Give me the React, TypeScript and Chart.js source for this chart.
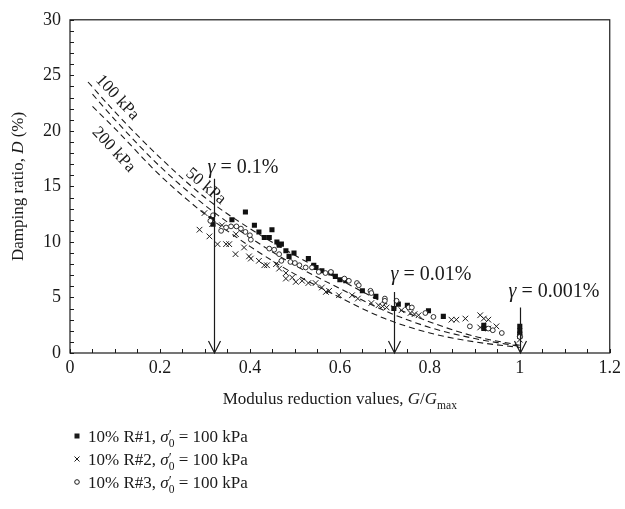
import React, { useEffect, useRef } from 'react';
import { Chart, registerables } from 'chart.js';

Chart.register(...registerables);

const FONT = "'Liberation Serif', 'Times New Roman', serif";
const INK = '#1a1a1a';

// Axis tick labels
const xTickLabels = ['0', '0.2', '0.4', '0.6', '0.8', '1', '1.2'];
const yTickLabels = ['0', '5', '10', '15', '20', '25', '30'];

// 10% R#1 (filled squares)
const r1X = [0.315, 0.318, 0.36, 0.39, 0.41, 0.42, 0.432, 0.443, 0.449, 0.46, 0.465, 0.47, 0.48, 0.487, 0.498, 0.53, 0.542, 0.547, 0.56, 0.58, 0.59, 0.6, 0.613, 0.65, 0.68, 0.72, 0.73, 0.75, 0.797, 0.83, 0.92, 0.92, 1.0, 1.0, 1.0, 1.0];
const r1D = [12.1, 11.6, 12.0, 12.7, 11.5, 10.9, 10.4, 10.4, 11.1, 10.0, 9.7, 9.8, 9.2, 8.7, 9.0, 8.5, 7.9, 7.7, 7.4, 7.2, 6.9, 6.6, 6.5, 5.6, 5.1, 4.0, 4.4, 4.3, 3.8, 3.3, 2.5, 2.2, 2.4, 2.0, 1.7, 1.5];

// 10% R#2 (crosses)
const r2X = [0.288, 0.299, 0.31, 0.314, 0.316, 0.328, 0.338, 0.347, 0.354, 0.368, 0.369, 0.387, 0.398, 0.402, 0.42, 0.432, 0.438, 0.458, 0.465, 0.48, 0.48, 0.494, 0.502, 0.516, 0.53, 0.546, 0.56, 0.569, 0.576, 0.598, 0.627, 0.64, 0.67, 0.686, 0.695, 0.704, 0.737, 0.757, 0.766, 0.775, 0.848, 0.859, 0.879, 0.912, 0.92, 0.93, 0.912, 0.93, 0.948, 1.0];
const r2D = [11.1, 12.6, 10.5, 12.1, 11.6, 9.8, 11.5, 9.8, 9.8, 8.9, 10.7, 9.5, 8.7, 8.5, 8.3, 7.9, 7.9, 8.0, 7.6, 7.2, 6.7, 6.8, 6.4, 6.5, 6.3, 6.3, 5.9, 5.5, 5.6, 5.2, 5.2, 4.9, 4.5, 4.3, 4.2, 4.1, 3.85, 3.6, 3.5, 3.4, 3.0, 3.0, 3.1, 3.4, 3.1, 3.0, 2.3, 2.2, 2.4, 1.2];

// 10% R#3 (open circles)
const r3X = [0.312, 0.318, 0.336, 0.347, 0.358, 0.37, 0.38, 0.39, 0.4, 0.402, 0.443, 0.454, 0.465, 0.47, 0.49, 0.5, 0.51, 0.524, 0.538, 0.553, 0.568, 0.58, 0.61, 0.62, 0.638, 0.642, 0.668, 0.67, 0.7, 0.7, 0.726, 0.753, 0.76, 0.79, 0.808, 0.889, 0.93, 0.94, 0.96, 1.0];
const r3D = [11.9, 12.4, 11.0, 11.3, 11.4, 11.4, 11.2, 10.9, 10.6, 10.2, 9.4, 9.3, 8.9, 8.3, 8.2, 8.1, 7.9, 7.7, 7.7, 7.3, 7.2, 7.3, 6.7, 6.5, 6.3, 6.1, 5.6, 5.4, 4.9, 4.7, 4.7, 4.1, 4.1, 3.6, 3.25, 2.4, 2.2, 2.05, 1.8, 1.45];

// Reference damping curves (dashed)
const curveTopX = [0.04, 0.1, 0.2, 0.3, 0.4, 0.5, 0.6, 0.7, 0.8, 0.9, 1.0];
const curveTopD = [24.4, 21.7, 17.6, 14.0, 11.2, 8.8, 6.6, 4.5, 2.8, 1.5, 0.7];
const curveMidX = [0.05, 0.1, 0.2, 0.3, 0.4, 0.5, 0.6, 0.7, 0.8, 0.9, 1.0];
const curveMidD = [23.3, 21.0, 16.8, 13.3, 10.4, 7.9, 5.8, 3.8, 2.3, 1.3, 0.6];
const curveLowX = [0.05, 0.1, 0.2, 0.3, 0.4, 0.5, 0.6, 0.7, 0.8, 0.9, 1.0];
const curveLowD = [22.2, 20.2, 16.0, 12.5, 9.6, 7.1, 5.0, 3.1, 1.8, 1.0, 0.5];

// Strain-level markers
const strainX = [0.32, 0.72, 1.0];
const strainTopD = [15.7, 5.5, 4.1];
const strainLabels = ['0.1%', '0.01%', '0.001%'];

const legendLabels = ['10% R#1, ', '10% R#2, ', '10% R#3, '];

const toPts = (xs: number[], ys: number[]) => xs.map((v, i) => ({ x: v, y: ys[i] }));

type Part = { t: string; it?: boolean; sub?: boolean; sup?: boolean; noAdv?: boolean };

function partFont(p: Part, size: number) {
  const s = p.sub ? size * 0.68 : p.sup ? size * 0.8 : size;
  return `${p.it ? 'italic ' : ''}${s}px ${FONT}`;
}

function richWidth(ctx: CanvasRenderingContext2D, parts: Part[], size: number) {
  let w = 0;
  for (const p of parts) {
    ctx.font = partFont(p, size);
    if (!p.noAdv) w += ctx.measureText(p.t).width;
  }
  return w;
}

function drawRich(ctx: CanvasRenderingContext2D, x: number, y: number, parts: Part[], size: number, align: 'left' | 'center' = 'left') {
  let cx = x;
  if (align === 'center') cx -= richWidth(ctx, parts, size) / 2;
  ctx.textAlign = 'left';
  ctx.textBaseline = 'alphabetic';
  for (const p of parts) {
    ctx.font = partFont(p, size);
    const dy = p.sub ? size * 0.28 : p.sup ? -size * 0.12 : 0;
    ctx.fillText(p.t, cx, y + dy);
    if (!p.noAdv) cx += ctx.measureText(p.t).width;
  }
}

const annotPlugin = {
  id: 'annot',
  afterDraw(chart: any) {
    const { ctx, chartArea: a, scales } = chart;
    const xs = scales.x;
    const ys = scales.y;
    ctx.save();
    ctx.strokeStyle = INK;
    ctx.fillStyle = INK;

    // frame
    ctx.lineWidth = 1.2;
    ctx.strokeRect(a.left, a.top, a.right - a.left, a.bottom - a.top);

    // inward minor ticks
    ctx.lineWidth = 1;
    ctx.beginPath();
    for (let v = 0; v <= 30; v++) {
      const py = Math.round(ys.getPixelForValue(v)) + 0.5;
      ctx.moveTo(a.left, py);
      ctx.lineTo(a.left + 4, py);
    }
    for (let i = 0; i <= 24; i++) {
      const px = Math.round(xs.getPixelForValue(i * 0.05)) + 0.5;
      ctx.moveTo(px, a.bottom);
      ctx.lineTo(px, a.bottom - 4);
    }
    ctx.stroke();

    // strain arrows
    ctx.lineWidth = 1.2;
    const offs = [[-7, 6], [-4, 12], [-12, 10]];
    strainX.forEach((sx, i) => {
      const px = Math.round(xs.getPixelForValue(sx)) + 0.5;
      const top = ys.getPixelForValue(strainTopD[i]);
      const bot = ys.getPixelForValue(0);
      ctx.beginPath();
      ctx.moveTo(px, top);
      ctx.lineTo(px, bot);
      ctx.moveTo(px - 6, bot - 12);
      ctx.lineTo(px, bot);
      ctx.lineTo(px + 6, bot - 12);
      ctx.stroke();
      drawRich(ctx, px + offs[i][0], top - offs[i][1], [
        { t: 'γ', it: true },
        { t: ' = ' + strainLabels[i] },
      ], 20);
    });

    // curve labels (rotated)
    const rot = (text: string, vx: number, vy: number, ang: number) => {
      ctx.save();
      ctx.translate(xs.getPixelForValue(vx), ys.getPixelForValue(vy));
      ctx.rotate((ang * Math.PI) / 180);
      ctx.font = `17px ${FONT}`;
      ctx.textAlign = 'center';
      ctx.textBaseline = 'middle';
      ctx.fillText(text, 0, 0);
      ctx.restore();
    };
    rot('100 kPa', 0.105, 23.0, 47);
    rot('200 kPa', 0.097, 18.3, 47);
    rot('50 kPa', 0.302, 15.0, 40);

    // axis titles
    const xt = (a.left + a.right) / 2;
    drawRich(ctx, xt, 404, [
      { t: 'Modulus reduction values, ' },
      { t: 'G', it: true },
      { t: '/' },
      { t: 'G', it: true },
      { t: 'max', sub: true },
    ], 17, 'center');

    ctx.save();
    ctx.translate(23, (a.top + a.bottom) / 2);
    ctx.rotate(-Math.PI / 2);
    drawRich(ctx, 0, 0, [
      { t: 'Damping ratio, ' },
      { t: 'D', it: true },
      { t: ' (%)' },
    ], 17, 'center');
    ctx.restore();

    // legend
    const rowsY = [436, 459, 482];
    rowsY.forEach((ry, i) => {
      const mx = 77;
      ctx.lineWidth = 1;
      if (i === 0) {
        ctx.fillRect(mx - 2.5, ry - 2.5, 5, 5);
      } else if (i === 1) {
        ctx.beginPath();
        ctx.moveTo(mx - 2.5, ry - 2.5); ctx.lineTo(mx + 2.5, ry + 2.5);
        ctx.moveTo(mx + 2.5, ry - 2.5); ctx.lineTo(mx - 2.5, ry + 2.5);
        ctx.stroke();
      } else {
        ctx.beginPath();
        ctx.arc(mx, ry, 2.3, 0, Math.PI * 2);
        ctx.stroke();
      }
      drawRich(ctx, 88, ry + 6, [
        { t: legendLabels[i] },
        { t: 'σ', it: true },
        { t: '′', sup: true, noAdv: true },
        { t: '0', sub: true },
        { t: ' = 100 kPa' },
      ], 17);
    });

    ctx.restore();
  },
};

export default function App() {
  const ref = useRef<HTMLCanvasElement | null>(null);

  useEffect(() => {
    if (!ref.current) return;
    const dashed = (xs: number[], ys: number[]) => ({
      type: 'line' as const,
      data: toPts(xs, ys),
      borderColor: INK,
      borderWidth: 1.1,
      borderDash: [6, 4],
      pointRadius: 0,
      fill: false,
      cubicInterpolationMode: 'monotone' as const,
      order: 5,
    });
    const chart = new Chart(ref.current, {
      type: 'scatter',
      data: {
        datasets: [
          dashed(curveTopX, curveTopD),
          dashed(curveMidX, curveMidD),
          dashed(curveLowX, curveLowD),
          {
            type: 'scatter',
            data: toPts(r3X, r3D),
            pointStyle: 'circle',
            pointRadius: 2.4,
            borderWidth: 0.9,
            borderColor: INK,
            backgroundColor: '#ffffff',
          },
          {
            type: 'scatter',
            data: toPts(r2X, r2D),
            pointStyle: 'crossRot',
            pointRadius: 4,
            borderWidth: 1,
            borderColor: INK,
            backgroundColor: INK,
          },
          {
            type: 'scatter',
            data: toPts(r1X, r1D),
            pointStyle: 'rect',
            pointRadius: 3.6,
            borderWidth: 0,
            borderColor: INK,
            backgroundColor: '#111',
          },
        ] as any,
      },
      options: {
        responsive: false,
        maintainAspectRatio: false,
        animation: false,
        events: [],
        layout: { padding: { left: 0, top: 18, right: 13, bottom: 0 } },
        plugins: { legend: { display: false }, tooltip: { enabled: false } },
        scales: {
          x: {
            type: 'linear',
            min: 0,
            max: 1.2,
            grid: { display: false, drawTicks: false },
            border: { display: false },
            ticks: {
              stepSize: 0.2,
              padding: 4,
              color: INK,
              font: { family: FONT, size: 18 },
              callback: (_v: any, i: number) => xTickLabels[i],
            },
            afterFit: (s: any) => { s.height = 156; },
          },
          y: {
            type: 'linear',
            min: 0,
            max: 30,
            grid: { display: false, drawTicks: false },
            border: { display: false },
            ticks: {
              stepSize: 5,
              padding: 9,
              color: INK,
              font: { family: FONT, size: 18 },
              callback: (_v: any, i: number) => yTickLabels[i],
            },
            afterFit: (s: any) => { s.width = 70; },
          },
        },
      } as any,
      plugins: [annotPlugin],
    });
    return () => chart.destroy();
  }, []);

  return (
    <div style={{ position: 'fixed', left: 0, top: 0, width: 625, height: 509, background: '#fff' }}>
      <canvas ref={ref} width={625} height={509} style={{ display: 'block' }} />
    </div>
  );
}
